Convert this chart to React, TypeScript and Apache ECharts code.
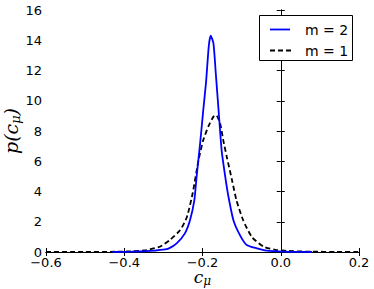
import React, { useEffect, useRef } from "react";
import * as echarts from "echarts";

const xBlue = [-0.43, -0.38, -0.35, -0.32, -0.30, -0.287, -0.266, -0.245, -0.232, -0.221, -0.215, -0.206, -0.198, -0.191, -0.184, -0.179, -0.172, -0.166, -0.159, -0.151, -0.142, -0.134, -0.121, -0.104, -0.087, -0.061, -0.036, 0.007, 0.05, 0.08];
const yBlue = [0, 0.02, 0.05, 0.1, 0.15, 0.22, 0.57, 1.23, 2.1, 3.4, 5.0, 7.2, 9.4, 11.2, 13.6, 14.3, 13.8, 11.8, 9.4, 6.7, 5.0, 3.7, 2.1, 1.1, 0.46, 0.24, 0.09, 0.02, 0.005, 0];

const xBlack = [-0.6, -0.5, -0.42, -0.377, -0.343, -0.309, -0.283, -0.257, -0.240, -0.225, -0.210, -0.198, -0.185, -0.172, -0.165, -0.155, -0.147, -0.138, -0.125, -0.113, -0.096, -0.074, -0.044, -0.010, 0.032, 0.08, 0.14, 0.2];
const yBlack = [0, 0, 0.02, 0.05, 0.13, 0.35, 0.8, 1.45, 2.3, 3.9, 6.1, 7.4, 8.3, 8.95, 9.05, 8.5, 7.4, 6.3, 4.8, 3.4, 2.1, 1.0, 0.35, 0.13, 0.05, 0.02, 0.01, 0];

const seriesNames = ["m = 2", "m = 1"];
const seriesColors = ["#0000ff", "#000000"];

export default function App() {
  const ref = useRef<HTMLDivElement>(null);
  useEffect(() => {
    const chart = echarts.init(ref.current!, null, { renderer: "svg" });
    const font = "DejaVu Sans";
    const fmtX = (v: number) => v.toFixed(1).replace("-", "\u2212");
    const axisCommon = {
      axisLine: { show: true, lineStyle: { color: "#000", width: 1 } },
      axisTick: { show: true, inside: true, length: 4, lineStyle: { color: "#000" } },
      splitLine: { show: false },
    };
    const yRich = {
      i: { fontFamily: "DejaVu Serif", fontStyle: "italic", fontSize: 19, color: "#000" },
      s: { fontFamily: "DejaVu Serif", fontStyle: "italic", fontSize: 13, color: "#000", padding: [9, 0, 0, 0] },
    };
    const xRich = {
      i: { fontFamily: "DejaVu Serif", fontStyle: "italic", fontSize: 17, color: "#000", lineHeight: 15 },
      s: { fontFamily: "DejaVu Serif", fontStyle: "italic", fontSize: 12, color: "#000", padding: [8, 0, 0, 0], lineHeight: 15 },
    };
    chart.setOption({
      animation: false,
      backgroundColor: "#fff",
      grid: { left: 46, right: 15, top: 10, bottom: 37, containLabel: false, outerBoundsMode: "none" },
      graphic: [
        {
          type: "rect",
          shape: { x: 259.5, y: 15.5, width: 93, height: 45 },
          style: { fill: "#fff", stroke: "#000", lineWidth: 1 },
          z: 100,
        },
        {
          type: "line",
          shape: { x1: 270, y1: 29.5, x2: 290, y2: 29.5 },
          style: { stroke: seriesColors[0], lineWidth: 1.8 },
          z: 101,
        },
        {
          type: "line",
          shape: { x1: 270, y1: 50.5, x2: 291, y2: 50.5 },
          style: { stroke: seriesColors[1], lineWidth: 1.8, lineDash: [5, 3] },
          z: 101,
        },
        {
          type: "text",
          x: 305,
          y: 29.5,
          style: { text: seriesNames[0], fontFamily: font, fontSize: 14, fill: "#000", verticalAlign: "middle" },
          z: 101,
        },
        {
          type: "text",
          x: 305,
          y: 50.5,
          style: { text: seriesNames[1], fontFamily: font, fontSize: 14, fill: "#000", verticalAlign: "middle" },
          z: 101,
        },
      ],
      xAxis: [
        {
          type: "value",
          min: -0.6,
          max: 0.2,
          interval: 0.2,
          position: "bottom",
          ...axisCommon,
          axisLabel: { formatter: fmtX, fontFamily: font, fontSize: 13, color: "#000", margin: 4 },
          name: "{i|c}{s|\u03bc}",
          nameLocation: "middle",
          nameGap: 17,
          nameMoveOverlap: false,
          nameTextStyle: { rich: xRich },
        },
        {
          type: "value",
          min: -0.6,
          max: 0.2,
          interval: 0.2,
          position: "top",
          ...axisCommon,
          axisLabel: { show: false },
        },
      ],
      yAxis: [
        {
          type: "value",
          min: 0,
          max: 16,
          interval: 2,
          position: "left",
          ...axisCommon,
          axisLabel: { fontFamily: font, fontSize: 13, color: "#000", margin: 4 },
          name: "{i|p(c}{s|\u03bc}{i|)}",
          nameLocation: "middle",
          nameGap: 24,
          nameRotate: 90,
          nameMoveOverlap: false,
          nameTextStyle: { rich: yRich },
        },
        {
          type: "value",
          min: 0,
          max: 16,
          interval: 2,
          position: "right",
          ...axisCommon,
          axisLabel: { show: false },
        },
      ],
      series: [
        {
          name: seriesNames[0],
          type: "line",
          data: xBlue.map((x, i) => [x, yBlue[i]]),
          showSymbol: false,
          symbol: "none",
          smooth: 0.2,
          lineStyle: { color: seriesColors[0], width: 1.8 },
          itemStyle: { color: seriesColors[0] },
          z: 3,
        },
        {
          name: seriesNames[1],
          type: "line",
          data: xBlack.map((x, i) => [x, yBlack[i]]),
          showSymbol: false,
          symbol: "none",
          smooth: 0.2,
          lineStyle: { color: seriesColors[1], width: 1.8, type: [5, 3] },
          itemStyle: { color: seriesColors[1] },
          z: 2,
        },
      ],
    });
    return () => chart.dispose();
  }, []);
  return (
    <div
      ref={ref}
      style={{ position: "fixed", left: 0, top: 0, width: 374, height: 289, background: "#fff" }}
    />
  );
}
